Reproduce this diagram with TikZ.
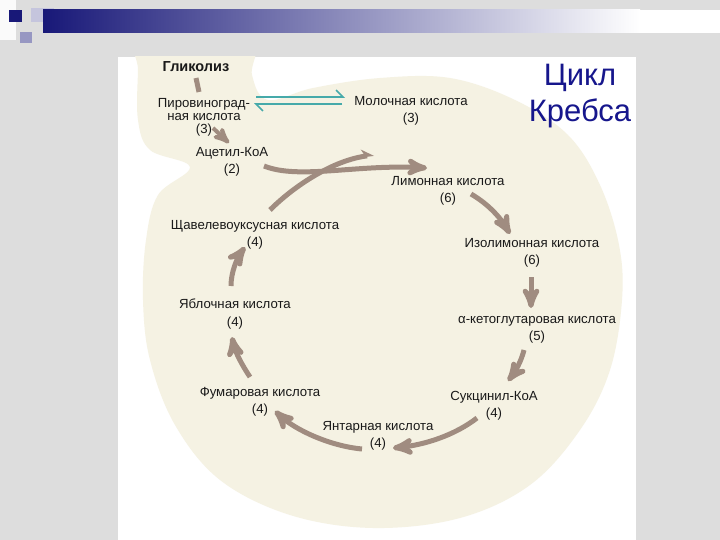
\documentclass[tikz,border=0pt]{standalone}
\usepackage{fontspec}
\setmainfont{Liberation Sans}
\usetikzlibrary{calc}
\usetikzlibrary{arrows}
\usetikzlibrary{arrows.meta}
\definecolor{slidegray}{RGB}{221,221,221}
\definecolor{navy}{RGB}{24,24,120}
\definecolor{cream}{RGB}{245,242,227}
\definecolor{flow}{RGB}{160,140,128}
\definecolor{harpteal}{RGB}{70,170,170}
\definecolor{titleblue}{RGB}{22,22,140}

\begin{document}
\begin{tikzpicture}[x=1pt, y=-1pt, >=stealth',
  acid/.style={align=center, inner sep=1pt, text=black!90, font=\fontsize{13.2}{17.5}\selectfont},
  flowarrow/.style={draw=flow, line width=5pt, ->},
  harp/.style={draw=harpteal, line width=1.6pt, -{Straight Barb[left, length=7pt, width=14pt]}}]
\useasboundingbox (0,0) rectangle (720,540);
\fill[slidegray] (0,0) rectangle (720,540);
\fill[white!85!slidegray] (0,0) rectangle (16,40);
\foreach \x/\y/\w/\h/\c in {9/10/13/12/navy, 31/8/23/14/navy!25, 20/32/12/11/navy!45} {
 \fill[\c] (\x,\y) rectangle ++(\w,\h);
}
\shade[left color=navy, right color=white] (43,10) rectangle (640,33);
\fill[white] (640,10) rectangle (720,33);
\fill[white] (118,57) rectangle (636,540);
\begin{scope}
\clip (118,57) rectangle (636,540);
\fill[cream] plot[smooth cycle, tension=0.6] coordinates {(140,30) (250,30) (252,75) (268,100) (313,88) (380,78) (450,78) (515,100) (568,135) (600,185) (619,245) (622,300) (610,370) (580,430) (530,485) (460,518) (373,528) (290,515) (220,480) (175,425) (150,360) (143,300) (146,240) (158,195) (190,167) (150,150) (138,120) (138,70)};
\end{scope}

\node[acid, font=\bfseries\fontsize{14.5}{15}\selectfont] (glyc) at (196,67) {Гликолиз};
\node[acid, font=\fontsize{13.2}{13}\selectfont] (pyr) at (204,117) {Пировиноград-\\ная кислота\\(3)};
\node[acid] (lact) at (411,111) {Молочная кислота\\(3)};
\node[acid] (acet) at (232,162) {Ацетил-КоА\\(2)};
\node[acid] (citr) at (448,191) {Лимонная кислота\\(6)};
\node[acid] (isocit) at (532,253) {Изолимонная кислота\\(6)};
\node[acid] (akg) at (537,330) {α-кетоглутаровая кислота\\(5)};
\node[acid] (succoa) at (494,406) {Сукцинил-КоА\\(4)};
\node[acid] (succ) at (378,436) {Янтарная кислота\\(4)};
\node[acid] (fum) at (260,402) {Фумаровая кислота\\(4)};
\node[acid] (mal) at (235,314) {Яблочная кислота\\(4)};
\node[acid] (oxa) at (255,235) {Щавелевоуксусная кислота\\(4)};
\node[font=\fontsize{31}{36}\selectfont, text=titleblue, align=center, inner sep=0pt] (title) at (580,96) {Цикл\\Кребса};
\coordinate (join) at ($(acet)+(142,-7)$);

\draw[flowarrow, -] ($(glyc)+(0,11)$) -- ($(pyr)+(-5,-25)$);
\draw[harp] ($(pyr)+(52,-20)$) -- ($(lact)+(-66,-14)$);
\draw[harp] ($(lact)+(-69,-7)$) -- ($(pyr)+(50,-13)$);
\draw[flowarrow, line width=4pt] ($(pyr)+(9,11)$) -- ($(acet)+(-3,-19)$);
\draw[flowarrow] ($(acet)+(32,4)$) .. controls +(35,14) and +(-70,-4) .. ($(citr)+(-21,-23)$);
\draw[flowarrow, -{Stealth[left, length=11pt, width=14pt]}] ($(oxa)+(15,-25)$) .. controls +(25,-25) and +(-40,5) .. (join);
\draw[flowarrow] ($(citr)+(23,3)$) .. controls +(19,11) and +(-8,-14) .. ($(isocit)+(-22,-19)$);
\draw[flowarrow] ($(isocit)+(-1,24)$) -- ($(akg)+(-6,-22)$);
\draw[flowarrow] ($(akg)+(-13,20)$) .. controls +(-3,12) and +(7,-9) .. ($(succoa)+(14,-25)$);
\draw[flowarrow] ($(succoa)+(-17,12)$) .. controls +(-22,17) and +(32,-3) .. ($(succ)+(15,12)$);
\draw[flowarrow] ($(succ)+(-16,13)$) .. controls +(-32,-3) and +(20,19) .. ($(fum)+(15,9)$);
\draw[flowarrow] ($(fum)+(-10,-25)$) .. controls +(-8,-12) and +(3,15) .. ($(mal)+(-3,23)$);
\draw[flowarrow] ($(mal)+(-4,-28)$) .. controls +(0,-14) and +(-8,11) .. ($(oxa)+(-10,12)$);
\end{tikzpicture}
\end{document}
